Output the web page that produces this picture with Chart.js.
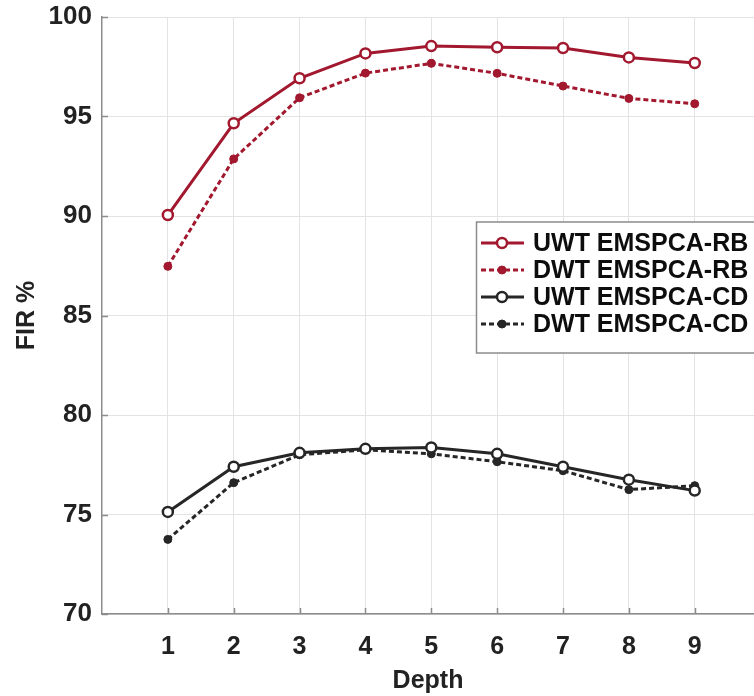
<!DOCTYPE html>
<html>
<head>
<meta charset="utf-8">
<script src="https://cdn.jsdelivr.net/npm/chart.js@4"></script>
<style>
  html, body { margin: 0; padding: 0; background: #fff; }
  #wrap { width: 754px; height: 696px; }
</style>
</head>
<body>
<div id="wrap"><canvas id="myChart" width="754" height="696"></canvas></div>
<script>
// data
const depths = [1, 2, 3, 4, 5, 6, 7, 8, 9];
const uwtRB = [90.05, 94.66, 96.92, 98.17, 98.54, 98.48, 98.44, 97.97, 97.69];
const dwtRB = [87.47, 92.87, 95.94, 97.18, 97.67, 97.17, 96.53, 95.91, 95.64];
const uwtCD = [75.13, 77.40, 78.10, 78.30, 78.37, 78.05, 77.40, 76.75, 76.20];
const dwtCD = [73.75, 76.60, 78.00, 78.25, 78.05, 77.65, 77.20, 76.25, 76.45];
const yTicks = [70, 75, 80, 85, 90, 95, 100];
const seriesNames = ['UWT EMSPCA-RB', 'DWT EMSPCA-RB', 'UWT EMSPCA-CD', 'DWT EMSPCA-CD'];

const RED = '#a2182e';
const DARK = '#262626';
const FONT = "'Liberation Sans', Arial, sans-serif";

function pts(vals) {
    return depths.map((d, i) => ({ x: d, y: vals[i] }));
}

function serie(label, vals, color, dashed) {
    return {
        label: label,
        data: pts(vals),
        borderColor: color,
        backgroundColor: color,
        borderWidth: 3,
        borderDash: dashed ? [5, 3] : [],
        pointStyle: 'circle',
        pointRadius: dashed ? 4 : 5,
        pointBorderWidth: dashed ? 1 : 2.5,
        pointBorderColor: color,
        pointBackgroundColor: dashed ? color : '#ffffff',
        tension: 0
    };
}

// small ticks pointing into the plot, like MATLAB
const innerTicks = {
    id: 'innerTicks',
    beforeDatasetsDraw(chart) {
        const c = chart.ctx;
        const xs = chart.scales.x, ys = chart.scales.y;
        const a = chart.chartArea;
        c.save();
        c.strokeStyle = '#8c8c8c';
        c.lineWidth = 1.5;
        c.beginPath();
        depths.forEach(v => {
            const px = Math.round(xs.getPixelForValue(v)) + 0.5;
            c.moveTo(px, a.bottom);
            c.lineTo(px, a.bottom - 6);
        });
        yTicks.forEach(v => {
            const py = Math.round(ys.getPixelForValue(v)) + 0.5;
            c.moveTo(a.left, py);
            c.lineTo(a.left + 6, py);
        });
        c.stroke();
        c.restore();
    }
};

// legend box drawn by hand, MATLAB style
const legendBox = {
    id: 'legendBox',
    afterDraw(chart) {
        const c = chart.ctx;
        const x0 = 476.5, y0 = 222, h = 131;
        c.save();
        c.fillStyle = '#fff';
        c.fillRect(x0, y0, 300, h);
        c.strokeStyle = '#8c8c8c';
        c.lineWidth = 1.5;
        c.strokeRect(x0, y0, 300, h);
        chart.data.datasets.forEach((ds, i) => {
            const y = 243 + i * 27;
            c.strokeStyle = ds.borderColor;
            c.lineWidth = 3;
            c.setLineDash(ds.borderDash);
            c.beginPath();
            c.moveTo(481, y);
            c.lineTo(524, y);
            c.stroke();
            c.setLineDash([]);
            c.beginPath();
            c.arc(502, y, ds.pointRadius, 0, Math.PI * 2);
            c.fillStyle = ds.pointBackgroundColor;
            c.fill();
            c.lineWidth = ds.pointBorderWidth;
            c.strokeStyle = ds.pointBorderColor;
            c.stroke();
            c.fillStyle = '#0d0d0d';
            c.font = 'bold 25px ' + FONT;
            c.textBaseline = 'middle';
            c.fillText(ds.label, 533, y + 1);
        });
        c.restore();
    }
};

const ctx = document.getElementById('myChart').getContext('2d');
new Chart(ctx, {
    type: 'line',
    data: {
        datasets: [
            serie(seriesNames[0], uwtRB, RED, false),
            serie(seriesNames[1], dwtRB, RED, true),
            serie(seriesNames[2], uwtCD, DARK, false),
            serie(seriesNames[3], dwtCD, DARK, true)
        ]
    },
    options: {
        responsive: false,
        animation: false,
        layout: { autoPadding: false, padding: { top: 17, right: 0, left: 0, bottom: 0 } },
        plugins: {
            legend: { display: false },
            tooltip: { enabled: false }
        },
        scales: {
            x: {
                type: 'linear',
                min: 0,
                max: 9.9,
                afterBuildTicks: (s) => { s.ticks = depths.map(v => ({ value: v })); },
                afterFit: (s) => { s.height = 82; s.paddingRight = 0; s.paddingLeft = 0; },
                border: { display: true, color: '#8c8c8c', width: 1.5 },
                grid: { color: '#e3e3e3', lineWidth: 1, drawTicks: false },
                ticks: {
                    padding: 18,
                    color: '#222',
                    font: { family: FONT, size: 25, weight: 'bold' }
                },
                title: {
                    display: true,
                    text: 'Depth',
                    color: '#222',
                    padding: { top: 4, bottom: 0 },
                    font: { family: FONT, size: 25, weight: 'bold' }
                }
            },
            y: {
                min: 70,
                max: 100,
                afterBuildTicks: (s) => { s.ticks = yTicks.map(v => ({ value: v })); },
                afterFit: (s) => { s.width = 102; s.paddingTop = 0; s.paddingBottom = 0; },
                border: { display: true, color: '#8c8c8c', width: 1.5 },
                grid: { color: '#e3e3e3', lineWidth: 1, drawTicks: false },
                ticks: {
                    padding: 10,
                    color: '#222',
                    font: { family: FONT, size: 26, weight: 'bold' }
                },
                title: {
                    display: true,
                    text: 'FIR %',
                    color: '#222',
                    padding: { top: 12, bottom: 0 },
                    font: { family: FONT, size: 25, weight: 'bold' }
                }
            }
        }
    },
    plugins: [innerTicks, legendBox]
});
</script>
</body>
</html>
